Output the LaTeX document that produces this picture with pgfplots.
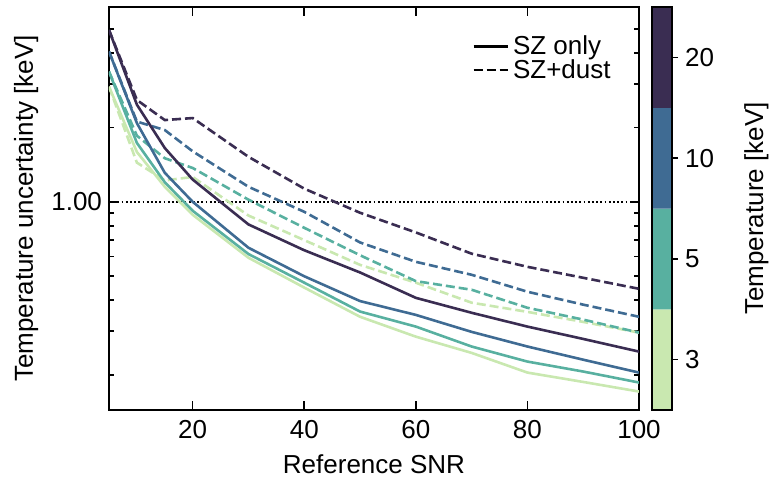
\documentclass[border=0pt]{standalone}
\usepackage{fontspec}
\setmainfont{Liberation Sans}
\usepackage{pgfplots}
\pgfplotsset{compat=1.18}
\definecolor{cA}{RGB}{58,45,82}
\definecolor{cB}{RGB}{63,107,147}
\definecolor{cC}{RGB}{88,176,160}
\definecolor{cD}{RGB}{201,232,176}
\newcommand\fs{\fontsize{13}{15}\selectfont}
\begin{document}
\begin{tikzpicture}
\begin{axis}[
  name=main,
  scale only axis, width=265pt, height=201.5pt,
  xmin=5, xmax=100, ymode=log, ymin=0.144, ymax=6.13,
  xtick={20,40,60,80,100},
  ytick={1}, yticklabels={1.00},
  minor ytick={0.2,0.3,0.4,0.5,0.6,0.7,0.8,0.9,2,3,4,5},
  tick align=inside,
  major tick length=4.5pt, minor tick length=2.5pt,
  every tick/.style={black, line width=0.8pt},
  axis line style={line width=1.1pt},
  /pgf/number format/assume math mode=true,
  every tick label/.append style={font=\fs},
  xticklabel style={yshift=-1.5pt},
  label style={font=\fs},
  xlabel={Reference SNR},
  xlabel style={at={(axis description cs:0.5,0)}, anchor=center, yshift=-27pt},
  ylabel={Temperature uncertainty [keV]},
  ylabel style={at={(axis description cs:-0.1434,0.5)}, anchor=base},
  legend style={draw=none, fill=none, font=\fs, at={(axis description cs:1,1)}, anchor=north east, xshift=-9pt, yshift=-10pt, row sep=-3pt},
  legend cell align=left,
]
\addlegendimage{black, line width=1.3pt}
\addlegendentry{SZ only}
\addlegendimage{black, line width=1.3pt, dash pattern=on 4.5pt off 2pt}
\addlegendentry{SZ+dust}
\addplot[forget plot, black, line width=0.9pt, dash pattern=on 0.9pt off 1.2pt] coordinates {(5,1) (100,1)};
% SZ+dust (dashed)
\addplot[forget plot, cD, line width=1.3pt, dash pattern=on 4.5pt off 2pt] coordinates {
(5,2.92) (10,1.44) (15,1.22) (20,1.26) (30,0.88) (40,0.70) (50,0.556) (60,0.471) (70,0.391) (80,0.359) (90,0.327) (100,0.296)};
\addplot[forget plot, cC, line width=1.3pt, dash pattern=on 4.5pt off 2pt] coordinates {
(5,3.36) (10,1.85) (15,1.50) (20,1.37) (30,1.02) (40,0.785) (50,0.608) (60,0.478) (70,0.441) (80,0.373) (90,0.334) (100,0.296)};
\addplot[forget plot, cB, line width=1.3pt, dash pattern=on 4.5pt off 2pt] coordinates {
(5,4.05) (10,2.11) (15,1.95) (20,1.60) (30,1.15) (40,0.911) (50,0.685) (60,0.572) (70,0.507) (80,0.433) (90,0.384) (100,0.343)};
\addplot[forget plot, cA, line width=1.3pt, dash pattern=on 4.5pt off 2pt] coordinates {
(5,4.95) (10,2.58) (15,2.14) (20,2.18) (30,1.52) (40,1.13) (50,0.903) (60,0.752) (70,0.617) (80,0.546) (90,0.493) (100,0.445)};
% SZ only (solid)
\addplot[forget plot, cD, line width=1.3pt] coordinates {
(5,2.92) (10,1.59) (15,1.15) (20,0.886) (30,0.594) (40,0.450) (50,0.343) (60,0.285) (70,0.245) (80,0.204) (90,0.187) (100,0.171)};
\addplot[forget plot, cC, line width=1.3pt] coordinates {
(5,3.36) (10,1.73) (15,1.20) (20,0.92) (30,0.615) (40,0.471) (50,0.360) (60,0.313) (70,0.260) (80,0.226) (90,0.206) (100,0.186)};
\addplot[forget plot, cB, line width=1.3pt] coordinates {
(5,4.05) (10,2.08) (15,1.31) (20,1.00) (30,0.652) (40,0.500) (50,0.397) (60,0.349) (70,0.298) (80,0.260) (90,0.230) (100,0.204)};
\addplot[forget plot, cA, line width=1.3pt] coordinates {
(5,4.95) (10,2.47) (15,1.65) (20,1.23) (30,0.810) (40,0.637) (50,0.518) (60,0.409) (70,0.356) (80,0.313) (90,0.279) (100,0.248)};
\end{axis}
\begin{axis}[
  at={(271.5pt,0pt)}, anchor=south west,
  scale only axis, width=10pt, height=201.5pt,
  xmin=0, xmax=1, ymin=0, ymax=4,
  axis on top,
  xtick=\empty,
  ytick={0.5,1.5,2.5,3.5}, yticklabels={3,5,10,20},
  ytick pos=right, yticklabel pos=right,
  tick align=outside, major tick length=3pt,
  every tick/.style={black, line width=0.8pt},
  axis line style={line width=1.1pt},
  every tick label/.append style={font=\fs},
  label style={font=\fs},
  ylabel={Temperature [keV]},
  ylabel style={at={(axis description cs:5.55,0.5)}, anchor=base},
]
\addplot[fill=cD, draw=none] coordinates {(0,0) (1,0) (1,1) (0,1) (0,0)};
\addplot[fill=cC, draw=none] coordinates {(0,1) (1,1) (1,2) (0,2) (0,1)};
\addplot[fill=cB, draw=none] coordinates {(0,2) (1,2) (1,3) (0,3) (0,2)};
\addplot[fill=cA, draw=none] coordinates {(0,3) (1,3) (1,4) (0,4) (0,3)};
\end{axis}
\pgfresetboundingbox
\path[use as bounding box] (-54.5pt,-36.5pt) rectangle (331.5pt,205pt);
\end{tikzpicture}
\end{document}
